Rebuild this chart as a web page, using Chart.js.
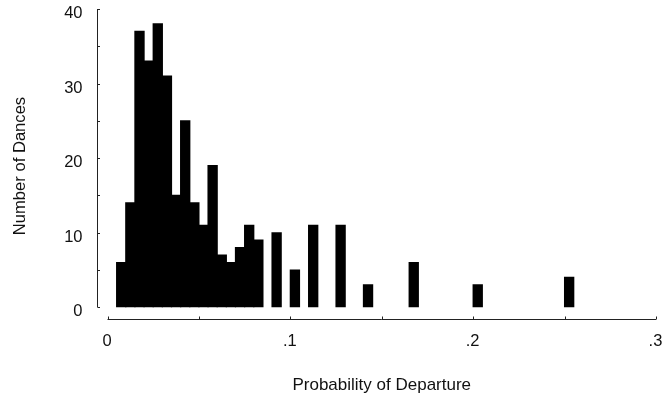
<!DOCTYPE html>
<html>
<head>
<meta charset="utf-8">
<script src="https://cdn.jsdelivr.net/npm/chart.js@4.4.0/dist/chart.umd.min.js"></script>
<style>
  body { margin: 0; background: #fff; }
  canvas { display: block; }
</style>
</head>
<body>
<canvas id="chart" width="662" height="397"></canvas>
<script>
// histogram: lower edge of each 0.005-wide bin that has dances, and the counts
const binWidth = 0.005;
const binStart = [0.005, 0.010, 0.015, 0.020, 0.025, 0.030, 0.035, 0.040,
                  0.045, 0.050, 0.055, 0.060, 0.065, 0.070, 0.075, 0.080,
                  0.090, 0.100, 0.110, 0.125, 0.140, 0.165, 0.200, 0.250];
const dances = [6, 14, 37, 33, 38, 31, 15, 25, 14, 11, 19, 7, 6, 8, 11, 9,
                10, 5, 11, 11, 3, 6, 3, 4];

const xTickLabels = ['0', '.1', '.2', '.3'];
const xMarks = [0, 0.05, 0.1, 0.15, 0.2, 0.25, 0.3];
const yMarks = [0, 5, 10, 15, 20, 25, 30, 35, 40];

const fontFamily = '"Liberation Sans", Arial, Helvetica, sans-serif';
const ink = '#111';

// the original has its axes pulled away from the bars, so draw them by hand
const detachedAxes = {
  id: 'detachedAxes',
  afterDraw(chart) {
    const {ctx, scales: {x, y}} = chart;
    const ax = Math.round(x.getPixelForValue(0) - 10.5) + 0.5;
    const ay = Math.round(y.getPixelForValue(0) + 12) + 0.5;
    ctx.save();
    ctx.strokeStyle = '#222';
    ctx.lineWidth = 1;
    ctx.beginPath();
    ctx.moveTo(ax, y.getPixelForValue(40));
    ctx.lineTo(ax, y.getPixelForValue(0));
    yMarks.forEach(v => {
      const p = Math.round(y.getPixelForValue(v)) + 0.5;
      ctx.moveTo(ax, p);
      ctx.lineTo(ax + 2.5, p);
    });
    ctx.moveTo(x.getPixelForValue(0), ay);
    ctx.lineTo(x.getPixelForValue(0.3), ay);
    xMarks.forEach(v => {
      const p = Math.round(x.getPixelForValue(v)) + 0.5;
      ctx.moveTo(p, ay);
      ctx.lineTo(p, ay - 3);
    });
    ctx.stroke();

    // y title, centred a bit lower than chart.js would put it
    ctx.translate(20, 166);
    ctx.rotate(-Math.PI / 2);
    ctx.fillStyle = ink;
    ctx.font = '16.6px ' + fontFamily;
    ctx.textAlign = 'center';
    ctx.textBaseline = 'middle';
    ctx.fillText('Number of Dances', 0, 0);
    ctx.restore();
  }
};

new Chart(document.getElementById('chart'), {
  type: 'bar',
  data: {
    datasets: [{
      data: binStart.map((s, i) => ({x: s + binWidth / 2, y: dances[i]})),
      backgroundColor: '#000',
      borderWidth: 0,
      inflateAmount: 0.6,
      barPercentage: 1,
      categoryPercentage: 1
    }]
  },
  options: {
    responsive: false,
    animation: false,
    layout: {padding: {top: 9, right: 6, left: 0, bottom: 0}},
    plugins: {legend: {display: false}, tooltip: {enabled: false}},
    scales: {
      x: {
        type: 'linear',
        offset: false,
        min: 0,
        max: 0.3,
        border: {display: false},
        grid: {display: false, drawTicks: false},
        ticks: {
          stepSize: 0.1,
          padding: 24.5,
          labelOffset: -0.5,
          maxRotation: 0,
          color: ink,
          font: {family: fontFamily, size: 16.5},
          callback: (v, i) => xTickLabels[i]
        },
        title: {
          display: true,
          text: 'Probability of Departure',
          color: ink,
          font: {family: fontFamily, size: 17},
          padding: {top: 0, bottom: 1}
        },
        afterFit(scale) {
          scale.height = 89.7;
          scale.paddingLeft = 0;
          scale.paddingRight = 0;
        }
      },
      y: {
        min: 0,
        max: 40,
        border: {display: false},
        grid: {display: false, drawTicks: false},
        ticks: {
          stepSize: 10,
          padding: 25,
          labelOffset: 4.5,
          color: ink,
          font: {family: fontFamily, size: 16.5}
        },
        afterFit(scale) {
          scale.width = 107.5;
          scale.paddingTop = 0;
          scale.paddingBottom = 0;
        }
      }
    }
  },
  plugins: [detachedAxes]
});
</script>
</body>
</html>
